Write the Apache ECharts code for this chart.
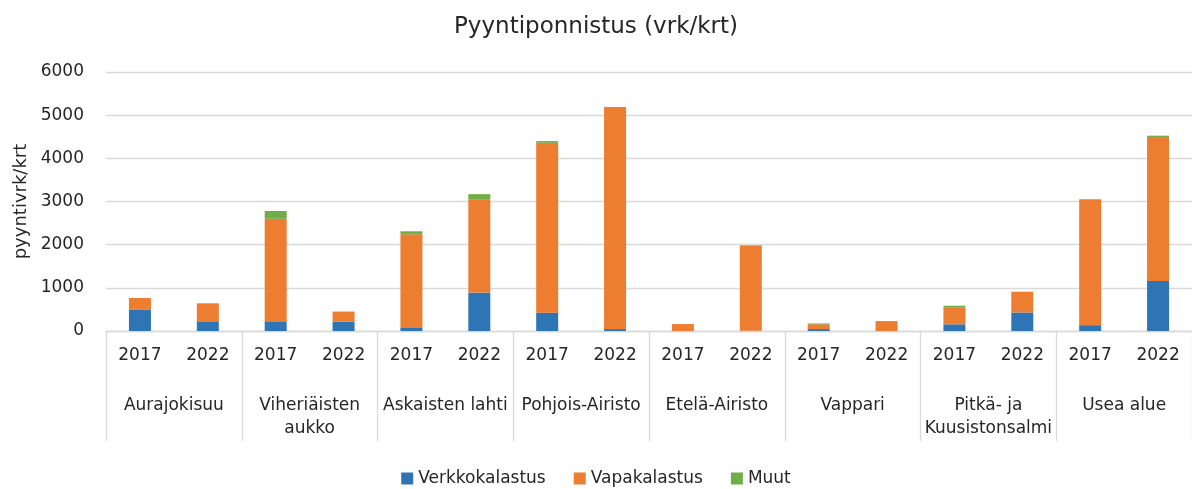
<!DOCTYPE html>
<html>
<head>
<meta charset="utf-8">
<title>Pyyntiponnistus (vrk/krt)</title>
<script src="https://cdn.jsdelivr.net/npm/echarts@6/dist/echarts.min.js"></script>
<style>
  html, body { margin: 0; padding: 0; background: #fff; }
  #chart { width: 1192px; height: 489px; }
</style>
</head>
<body>
<div id="chart"></div>
<script>
// areas and years (two-level category axis)
var areas = ['Aurajokisuu', 'Viheriäisten\naukko', 'Askaisten lahti', 'Pohjois-Airisto',
    'Etelä-Airisto', 'Vappari', 'Pitkä- ja\nKuusistonsalmi', 'Usea alue'];
var years = ['2017', '2022'];

// values per area/year, in order: area1 2017, area1 2022, area2 2017, ...
var verkkokalastus = [500, 225, 225, 215, 85, 890, 425, 45, 0, 5, 45, 0, 155, 430, 135, 1160];
var vapakalastus = [265, 410, 2375, 235, 2155, 2160, 3935, 5145, 160, 1975, 110, 230, 395, 480, 2915, 3335];
var muut = [0, 10, 180, 0, 70, 120, 40, 0, 0, 5, 20, 0, 35, 0, 0, 30];

var yTicks = [0, 1000, 2000, 3000, 4000, 5000, 6000];

var font = 'DejaVu Sans';
var textColor = '#262626';
var gridColor = '#d9d9d9';

var xCats = [];
for (var i = 0; i < areas.length; i++) {
    for (var j = 0; j < years.length; j++) {
        xCats.push(areas[i] + '|' + years[j]);
    }
}

var myChart = echarts.init(document.getElementById('chart'));

function bar(name, data, color) {
    return {
        name: name,
        type: 'bar',
        stack: 'total',
        barWidth: 22,
        xAxisIndex: 0,
        data: data,
        itemStyle: {color: color},
        emphasis: {disabled: true}
    };
}

myChart.setOption({
    animation: false,
    textStyle: {fontFamily: font},
    title: {
        text: 'Pyyntiponnistus (vrk/krt)',
        left: 'center',
        top: 11,
        textStyle: {fontFamily: font, fontSize: 23, fontWeight: 'normal', color: textColor}
    },
    legend: {
        data: ['Verkkokalastus', 'Vapakalastus', 'Muut'],
        left: 'center',
        top: 465,
        icon: 'rect',
        itemWidth: 12,
        itemHeight: 12,
        itemGap: 28,
        textStyle: {fontFamily: font, fontSize: 17, color: textColor}
    },
    grid: {
        left: 106,
        right: 0,
        top: 72,
        bottom: 158,
        containLabel: false
    },
    xAxis: [{
        type: 'category',
        data: xCats,
        position: 'bottom',
        axisLine: {show: true, lineStyle: {color: gridColor, width: 1.3}},
        axisTick: {show: false},
        axisLabel: {
            interval: 0,
            margin: 16,
            fontFamily: font,
            fontSize: 17,
            color: textColor,
            formatter: function (v) { return v.split('|')[1]; }
        }
    }, {
        type: 'category',
        data: areas,
        position: 'bottom',
        offset: 0,
        axisLine: {show: false},
        axisTick: {show: true, interval: 0, length: 110, lineStyle: {color: gridColor, width: 1.3}},
        axisLabel: {
            interval: 0,
            margin: 63,
            fontFamily: font,
            fontSize: 17,
            lineHeight: 23,
            color: textColor,
            verticalAlign: 'top'
        }
    }],
    yAxis: {
        type: 'value',
        min: yTicks[0],
        max: yTicks[yTicks.length - 1],
        interval: 1000,
        name: 'pyyntivrk/krt',
        nameLocation: 'middle',
        nameGap: 70,
        nameTextStyle: {fontFamily: font, fontSize: 18, color: textColor},
        axisLine: {show: false},
        axisTick: {show: false},
        axisLabel: {
            margin: 22,
            fontFamily: font,
            fontSize: 17,
            color: textColor,
            formatter: function (v) { return String(v); }
        },
        splitLine: {lineStyle: {color: gridColor, width: 1.3}}
    },
    series: [
        bar('Verkkokalastus', verkkokalastus, '#2e75b6'),
        bar('Vapakalastus', vapakalastus, '#ed7d31'),
        bar('Muut', muut, '#70ad47')
    ]
});
</script>
</body>
</html>
